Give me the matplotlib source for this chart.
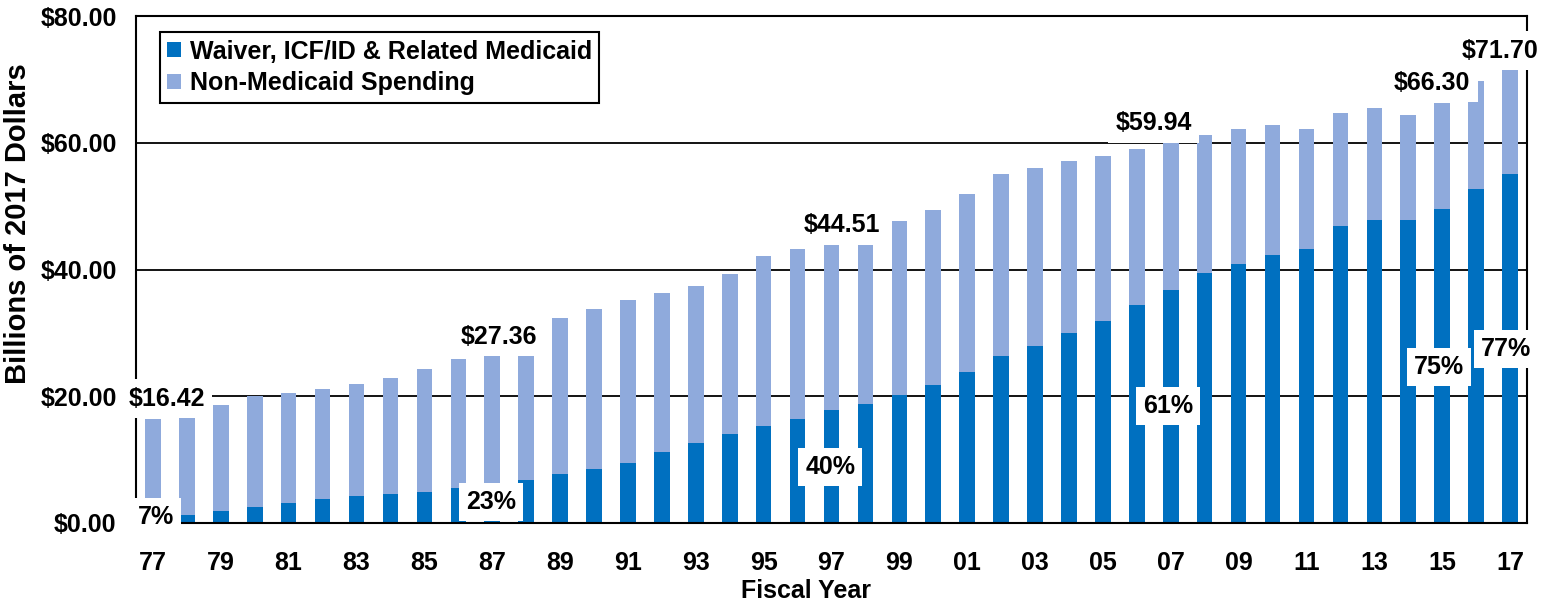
import numpy as np
import matplotlib
matplotlib.use("Agg")
import matplotlib.pyplot as plt

plt.rcParams['font.family'] = ['Liberation Sans', 'DejaVu Sans']
plt.rcParams['font.weight'] = 'bold'

years = ['77', '78', '79', '80', '81', '82', '83', '84', '85', '86',
         '87', '88', '89', '90', '91', '92', '93', '94', '95', '96',
         '97', '98', '99', '00', '01', '02', '03', '04', '05', '06',
         '07', '08', '09', '10', '11', '12', '13', '14', '15', '16', '17']

# billions of 2017 dollars
medicaid = [1.15, 1.2, 1.84, 2.45, 3.13, 3.8, 4.23, 4.54, 4.97, 5.58,
            6.1, 6.86, 7.66, 8.5, 9.44, 11.28, 12.7, 14.0, 15.3, 16.4,
            17.8, 18.76, 20.2, 21.7, 23.8, 26.4, 27.95, 30.0, 31.9, 34.4,
            36.7, 39.5, 40.8, 42.3, 43.2, 46.9, 47.8, 47.8, 49.5, 52.7, 55.1]
total = [16.42, 16.7, 18.6, 20.0, 20.5, 21.1, 21.9, 22.9, 24.3, 25.8,
         27.36, 27.4, 32.3, 33.7, 35.25, 36.3, 37.4, 39.3, 42.1, 43.2,
         44.51, 45.3, 47.6, 49.4, 51.9, 55.1, 56.0, 57.1, 57.9, 59.0,
         59.94, 61.2, 62.2, 62.8, 62.2, 64.7, 65.5, 64.4, 66.3, 69.8, 71.7]
non_medicaid = [t - m for t, m in zip(total, medicaid)]

total_labels = ['$16.42', '$27.36', '$44.51', '$59.94', '$66.30', '$71.70']
pct_labels = ['7%', '23%', '40%', '61%', '75%', '77%']

dark = '#0070C0'
light = '#8FAADC'
fs = 18

fig = plt.figure(figsize=(15.53, 6.08), dpi=100)
ax = fig.add_axes([136/1553, 1-523/608, 1391/1553, 507/608])

x = np.arange(len(years))
ax.bar(x, medicaid, width=0.46, color=dark, zorder=2,
       label='Waiver, ICF/ID & Related Medicaid')
ax.bar(x, non_medicaid, width=0.46, bottom=medicaid, color=light, zorder=2,
       label='Non-Medicaid Spending')

ax.set_xlim(-0.5, len(years) - 0.5)
ax.set_ylim(0, 80)
ax.set_yticks([0, 20, 40, 60, 80])
ax.set_yticklabels(['$%.2f' % v for v in [0, 20, 40, 60, 80]])
ax.set_xticks(x[::2])
ax.set_xticklabels(years[::2])
ax.tick_params(axis='x', length=0, pad=20, labelsize=fs)
ax.tick_params(axis='y', length=0, pad=14, labelsize=fs)
ax.yaxis.grid(True, color='black', linewidth=1.3, zorder=1)
ax.set_axisbelow(True)
for s in ax.spines.values():
    s.set_color('black')
    s.set_linewidth(1.5)

ax.set_xlabel('Fiscal Year', fontsize=fs, fontweight='bold')
ax.xaxis.set_label_coords(0.482, -0.134)
ax.xaxis.label.set_va('center')
ax.set_ylabel('Billions of 2017 Dollars', fontsize=21, fontweight='bold')
ax.yaxis.set_label_coords(-0.0848, 0.59)
ax.yaxis.label.set_va('center')
ax.yaxis.label.set_ha('center')

box = dict(boxstyle='square,pad=0.3', facecolor='white', edgecolor='none')
tot_pos = [(0.4, 19.6), (10.2, 29.4), (20.3, 47.0), (29.5, 63.1), (37.7, 69.5), (39.7, 74.5)]
for (px, py), t in zip(tot_pos, total_labels):
    ax.text(px, py, t, ha='center', va='center', fontsize=fs, fontweight='bold',
            bbox=box, zorder=5, clip_on=False)
pct_pos = [(0.1, 0.9), (9.97, 3.3), (19.96, 8.9), (29.93, 18.4), (37.9, 24.65), (39.87, 27.5)]
for (px, py), t in zip(pct_pos, pct_labels):
    ax.text(px, py, t, ha='center', va='center', fontsize=fs, fontweight='bold',
            bbox=dict(boxstyle='square,pad=0.28', facecolor='white', edgecolor='none'),
            zorder=5, clip_on=False)

leg = ax.legend(loc='upper left', bbox_to_anchor=(0.017, 0.968), fontsize=fs,
                frameon=True, fancybox=False, framealpha=1, edgecolor='black',
                borderpad=0.3, handlelength=0.55, handleheight=0.55,
                handletextpad=0.35, labelspacing=0.3, borderaxespad=0)
leg.get_frame().set_linewidth(1.5)
leg.set_zorder(6)

fig.savefig('out.png', dpi=100)
